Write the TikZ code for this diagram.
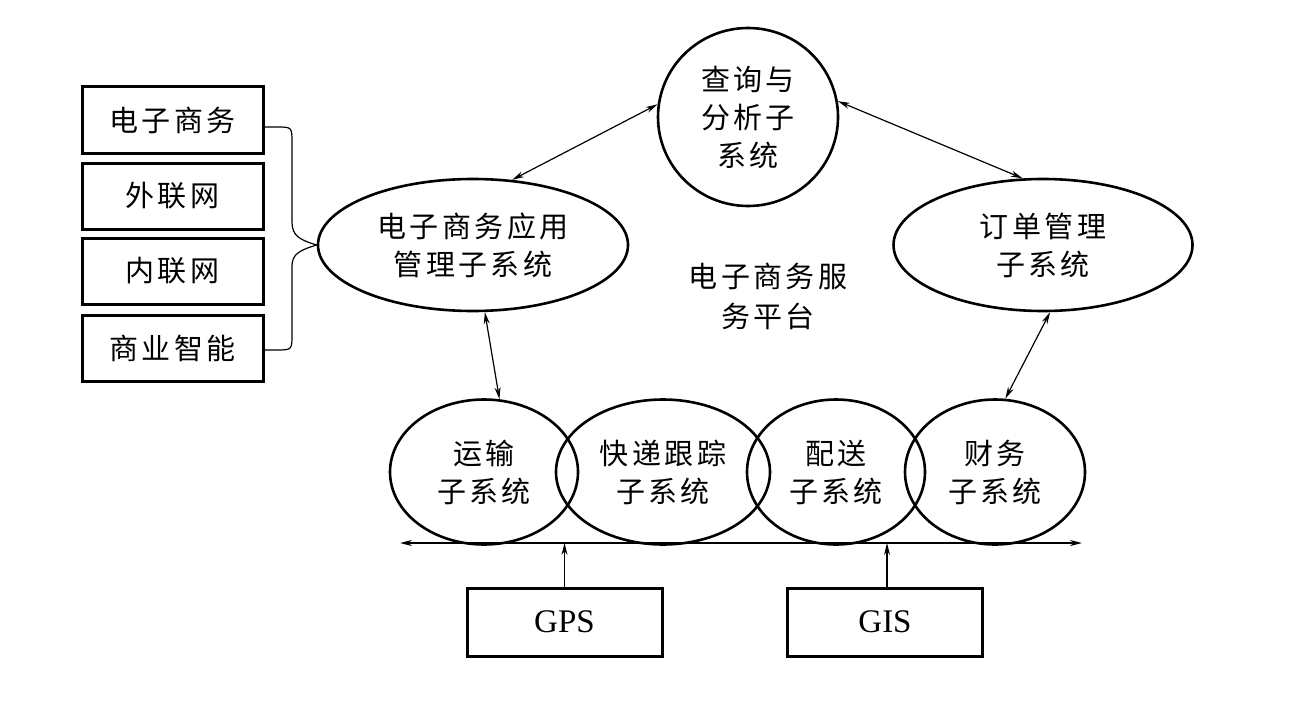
\documentclass[tikz,border=0pt]{standalone}
\usepackage{fontspec}
\setmainfont{Liberation Serif}
\newfontfamily\cjk[LetterSpace=12]{Noto Sans CJK SC}
\usetikzlibrary{shapes.geometric,arrows.meta}
\begin{document}
\begin{tikzpicture}[x=1pt,y=-1pt,
  cjkt/.style={font=\cjk\fontsize{29}{38}\selectfont},
  ell/.style={draw,ellipse,line width=2.6pt,inner sep=0pt,align=center,cjkt},
  box/.style={draw,rectangle,line width=3pt,inner sep=0pt,align=center},
  arr/.style={line width=1.2pt,{Stealth[length=12pt,width=6pt]}-{Stealth[length=12pt,width=6pt]}},
  uarr/.style={line width=1.2pt,-{Stealth[length=12pt,width=6pt]}},
  brace/.style={line width=1.2pt}
]
\useasboundingbox (0,0) rectangle (1313,706);
% ellipses
\node[ell,minimum width=180,minimum height=178] (T) at (748,117) {查询与\\分析子\\系统};
\node[ell,minimum width=310,minimum height=132] (L) at (473,245) {电子商务应用\\管理子系统};
\node[ell,minimum width=299,minimum height=132] (R) at (1043,245) {订单管理\\子系统};
\node[cjkt,align=center,font=\cjk\fontsize{29}{40}\selectfont] (P) at (768,296) {电子商务服\\务平台};
\node[ell,minimum width=188,minimum height=145] (B1) at (484,472) {运输\\子系统};
\node[ell,minimum width=214,minimum height=145] (B2) at (663,472) {快递跟踪\\子系统};
\node[ell,minimum width=178,minimum height=145] (B3) at (836,472) {配送\\子系统};
\node[ell,minimum width=180,minimum height=145] (B4) at (995,472) {财务\\子系统};
% left boxes
\node[box,cjkt,minimum width=181,minimum height=66] (b1) at (172.5,120) {电子商务};
\node[box,cjkt,minimum width=181,minimum height=66] (b2) at (172.5,196) {外联网};
\node[box,cjkt,minimum width=181,minimum height=66] (b3) at (172.5,271) {内联网};
\node[box,cjkt,minimum width=181,minimum height=66] (b4) at (172.5,348) {商业智能};
% brace
\draw[brace] ([yshift=-7pt]b1.east) -- ++(12,0) .. controls (292,127) and (292,127) .. (292,143)
  -- (292,222) .. controls (292,236) and (300,240) .. (L.west);
\draw[brace] (L.west) .. controls (300,250) and (292,254) .. (292,266)
  -- (292,334) .. controls (292,350) and (292,350) .. (276,350) -- ([yshift=-2pt]b4.east);
% arrows between ellipses
\draw[arr] (L.59) -- (T.172);
\draw[arr] (T.10) -- (R.107);
\draw[arr] (L.-80) -- (B1.78);
\draw[arr] (R.-84) -- (B4.82);
% base line
\coordinate (hl) at (400,543);
\coordinate (hr) at (1082,543);
\draw[arr,line width=2pt] (hl) -- (hr);
% GPS / GIS
\node[box,minimum width=195,minimum height=68,font=\fontsize{33}{40}\selectfont] (gps) at (564.5,622) {GPS};
\node[box,minimum width=195,minimum height=68,font=\fontsize{33}{40}\selectfont] (gis) at (885,622) {GIS};
\draw[uarr] (gps.north) -- (gps.north |- hl);
\draw[uarr] ([xshift=2pt]gis.north) -- ([xshift=2pt]gis.north |- hl);
\end{tikzpicture}
\end{document}
